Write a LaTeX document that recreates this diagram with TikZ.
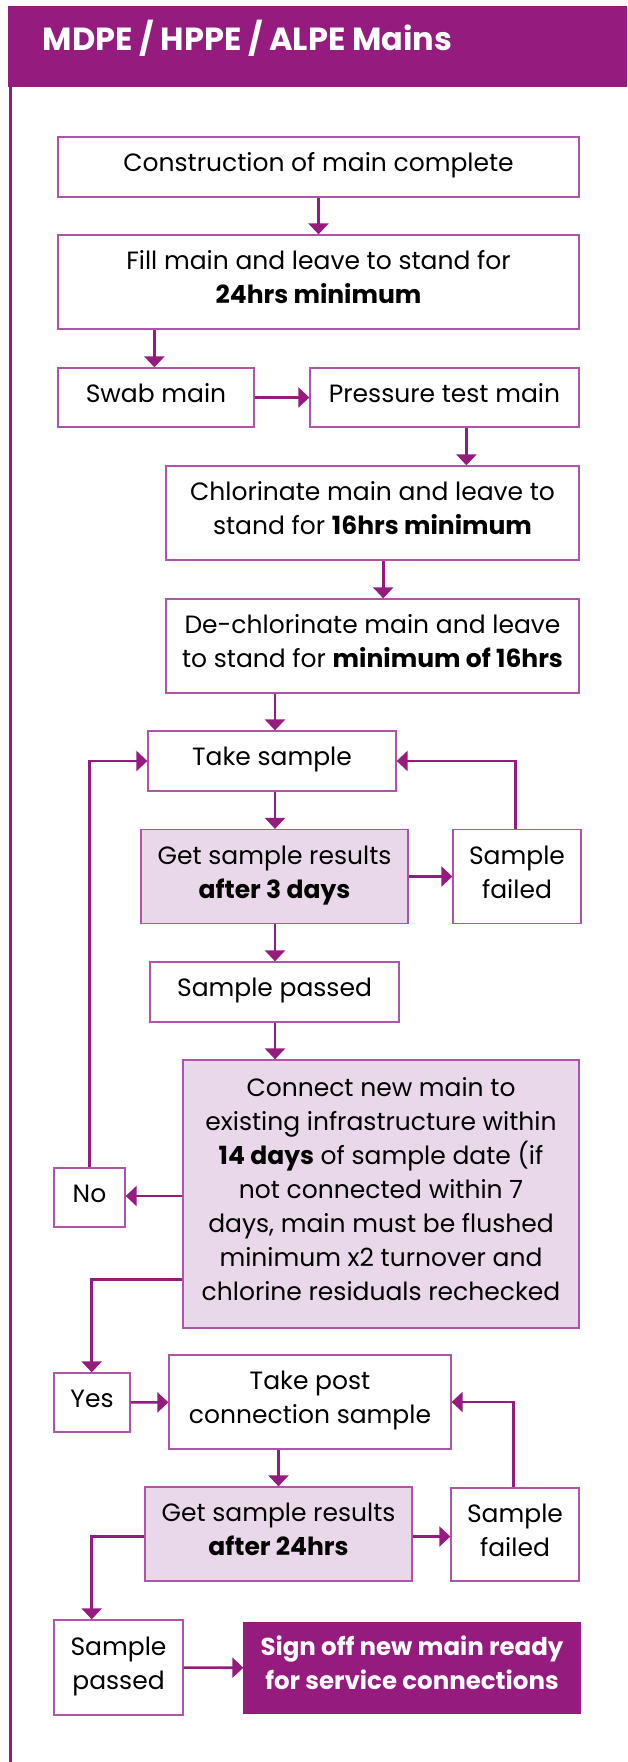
\documentclass[tikz,border=0pt]{standalone}
\usepackage{fontspec}
\setmainfont{Poppins}
\usetikzlibrary{arrows.meta}
\definecolor{hdr}{RGB}{149,27,126}
\definecolor{bord}{RGB}{176,84,170}
\definecolor{lite}{RGB}{233,215,234}
\newcommand\tstrut{\rule{0pt}{19pt}}
\newcommand\bstrut{\rule[-9.8pt]{0pt}{9.8pt}}
\tikzset{
  pbox/.style={draw=bord, line width=1.3pt, fill=white, inner sep=0pt, align=center,
    font=\fontsize{25pt}{34pt}\selectfont, text=black},
  plite/.style={pbox, fill=lite},
  pdark/.style={pbox, draw=hdr, fill=hdr, text=white, font=\fontsize{24.5pt}{34pt}\selectfont\bfseries},
  arr/.style={draw=hdr, line width=2.6pt, -{Triangle[width=20pt,length=11pt]}},
}
\begin{document}
\begin{tikzpicture}[x=1pt,y=-1pt]
\useasboundingbox (0,0) rectangle (627,1762);
\fill[hdr] (7.5,6) rectangle (627,87);
\draw[hdr, line width=2.5pt] (10.5,87) -- (10.5,1762);
\node[anchor=base west, text=white, font=\fontsize{32pt}{38pt}\selectfont\bfseries, inner sep=0pt] (title) at (42.5,50) {MDPE / HPPE / ALPE Mains};

\node[pbox, minimum width=521pt, minimum height=60pt] (cons) at (318.5,167) {\tstrut Construction of main complete\bstrut};
\node[pbox, minimum width=521pt, minimum height=94pt] (fill) at (318.5,282) {\tstrut Fill main and leave to stand for\\\textbf{24hrs minimum}\bstrut};
\node[pbox, minimum width=196pt, minimum height=59pt] (swab) at (156,397.5) {\tstrut Swab main\bstrut};
\node[pbox, minimum width=269pt, minimum height=59pt] (press) at (444.5,397.5) {\tstrut Pressure test main\bstrut};
\node[pbox, minimum width=413pt, minimum height=94pt] (chlor) at (372.5,513) {\tstrut Chlorinate main and leave to\\stand for \textbf{16hrs minimum}\bstrut};
\node[pbox, minimum width=413pt, minimum height=94pt] (dechlor) at (372.5,646) {\tstrut De-chlorinate main and leave\\to stand for \textbf{minimum of 16hrs}\bstrut};
\node[pbox, minimum width=248pt, minimum height=60pt] (take) at (272,761) {\tstrut Take sample\bstrut};
\node[plite, minimum width=267pt, minimum height=94pt] (res1) at (274.5,876.5) {\tstrut Get sample results\\\textbf{after 3 days}\bstrut};
\node[pbox, minimum width=128pt, minimum height=94pt] (fail1) at (517,876.5) {\tstrut Sample\\failed\bstrut};
\node[pbox, minimum width=249pt, minimum height=60pt] (pass1) at (274.5,992) {\tstrut Sample passed\bstrut};
\node[plite, minimum width=396pt, minimum height=268pt] (conn) at (381,1194) {\tstrut Connect new main to\\existing infrastructure within\\\textbf{14 days} of sample date (if\\not connected within 7\\days, main must be flushed\\minimum x2 turnover and\\chlorine residuals rechecked\bstrut};
\node[pbox, minimum width=71pt, minimum height=59pt] (no) at (89.5,1197.5) {\tstrut No\bstrut};
\node[pbox, minimum width=76pt, minimum height=59pt] (yes) at (92,1402.5) {\tstrut Yes\bstrut};
\node[pbox, minimum width=282pt, minimum height=94pt] (post) at (310,1402) {\tstrut Take post\\connection sample\bstrut};
\node[plite, minimum width=267pt, minimum height=94pt] (res2) at (278.5,1534) {\tstrut Get sample results\\\textbf{after 24hrs}\bstrut};
\node[pbox, minimum width=128pt, minimum height=93pt] (fail2) at (515,1534.5) {\tstrut Sample\\failed\bstrut};
\node[pbox, minimum width=129pt, minimum height=95pt] (pass2) at (118.5,1667.5) {\tstrut Sample\\passed\bstrut};
\node[pdark, minimum width=336pt, minimum height=91.5pt] (sign) at (412,1668) {\tstrut Sign off new main ready\\for service connections\bstrut};

\coordinate (a1) at (275,0);
\coordinate (a2) at (466.4,0);
\coordinate (a3) at (383.2,0);
\coordinate (a4) at (154.4,0);
\coordinate (l1) at (515.6,0);
\coordinate (l2) at (513.6,0);
\coordinate (lx) at (91.7,0);
\coordinate (ny) at (0,1196);
\coordinate (yy) at (0,1279.5);
\coordinate (ry) at (0,1536.5);

\draw[arr] (cons) -- (fill);
\draw[arr] (fill.south -| a4) -- (swab.north -| a4);
\draw[arr] (swab) -- (press);
\draw[arr] (press.south -| a2) -- (chlor.north -| a2);
\draw[arr] (chlor.south -| a3) -- (dechlor.north -| a3);
\draw[arr] (dechlor.south -| a1) -- (take.north -| a1);
\draw[arr] (take.south -| a1) -- (res1.north -| a1);
\draw[arr] (res1) -- (fail1);
\draw[arr] (fail1.north -| l1) |- (take.east);
\draw[arr] (res1.south -| a1) -- (pass1.north -| a1);
\draw[arr] (pass1.south -| a1) -- (conn.north -| a1);
\draw[arr] (conn.west |- ny) -- (no.east |- ny);
\draw[arr] (no.north) |- (take.west);
\draw[arr] (conn.west |- yy) -| (yes.north -| lx);
\draw[arr] (yes) -- (post);
\draw[arr] (post.south -| res2.north) -- (res2.north);
\draw[arr] (res2.east |- ry) -- (fail2.west |- ry);
\draw[arr] (fail2.north -| l2) |- (post.east);
\draw[arr] (res2.west |- ry) -| (pass2.north -| lx);
\draw[arr] (pass2) -- (sign);
\end{tikzpicture}
\end{document}
